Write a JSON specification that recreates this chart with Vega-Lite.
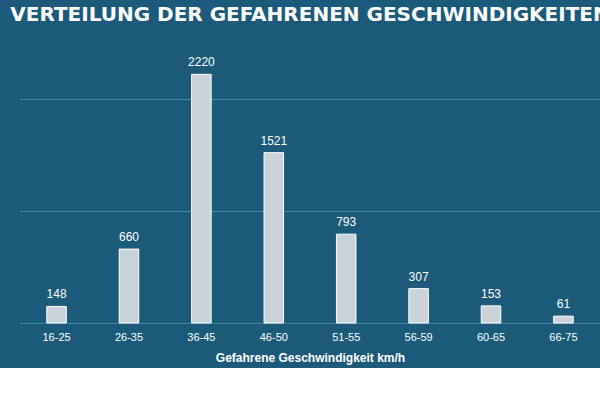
{
"$schema":"https://vega.github.io/schema/vega-lite/v6.json",
"width":580,"height":280,
"padding":{"left":10,"right":10,"top":5,"bottom":5},
"background":"#1b5a7a",
"title":{"text":"VERTEILUNG DER GEFAHRENEN GESCHWINDIGKEITEN","color":"white","fontSize":20,"font":"DejaVu Sans","fontWeight":"bold","offset":18},
"config":{"view":{"stroke":null},"axis":{"domain":false}},
"data":{"values":[
{"k":"16-25","v":148},{"k":"26-35","v":660},{"k":"36-45","v":2220},{"k":"46-50","v":1521},
{"k":"51-55","v":793},{"k":"56-59","v":307},{"k":"60-65","v":153},{"k":"66-75","v":61}]},
"encoding":{
"x":{"field":"k","type":"nominal","sort":null,"scale":{"paddingInner":0.73,"paddingOuter":0.37},
"axis":{"title":"Gefahrene Geschwindigkeit  km/h","titleColor":"white","titleFontSize":12,"titleFontWeight":"bold","titleFont":"Liberation Sans","labelColor":"white","labelFontSize":11,"labelAngle":0,"ticks":false,"labelPadding":8,"titlePadding":10,"grid":false}},
"y":{"field":"v","type":"quantitative","scale":{"domain":[0,2500]},
"axis":{"title":null,"labels":false,"ticks":false,"tickCount":5,"values":[0,500,1000,1500,2000,2500],"gridColor":"#3f86a8","gridWidth":1}}},
"layer":[
{"mark":{"type":"bar","fill":"#c9d3d9","stroke":"white","strokeWidth":1}},
{"mark":{"type":"text","dy":-12,"color":"white","fontSize":12,"font":"Liberation Sans"},"encoding":{"text":{"field":"v"}}}
]}
